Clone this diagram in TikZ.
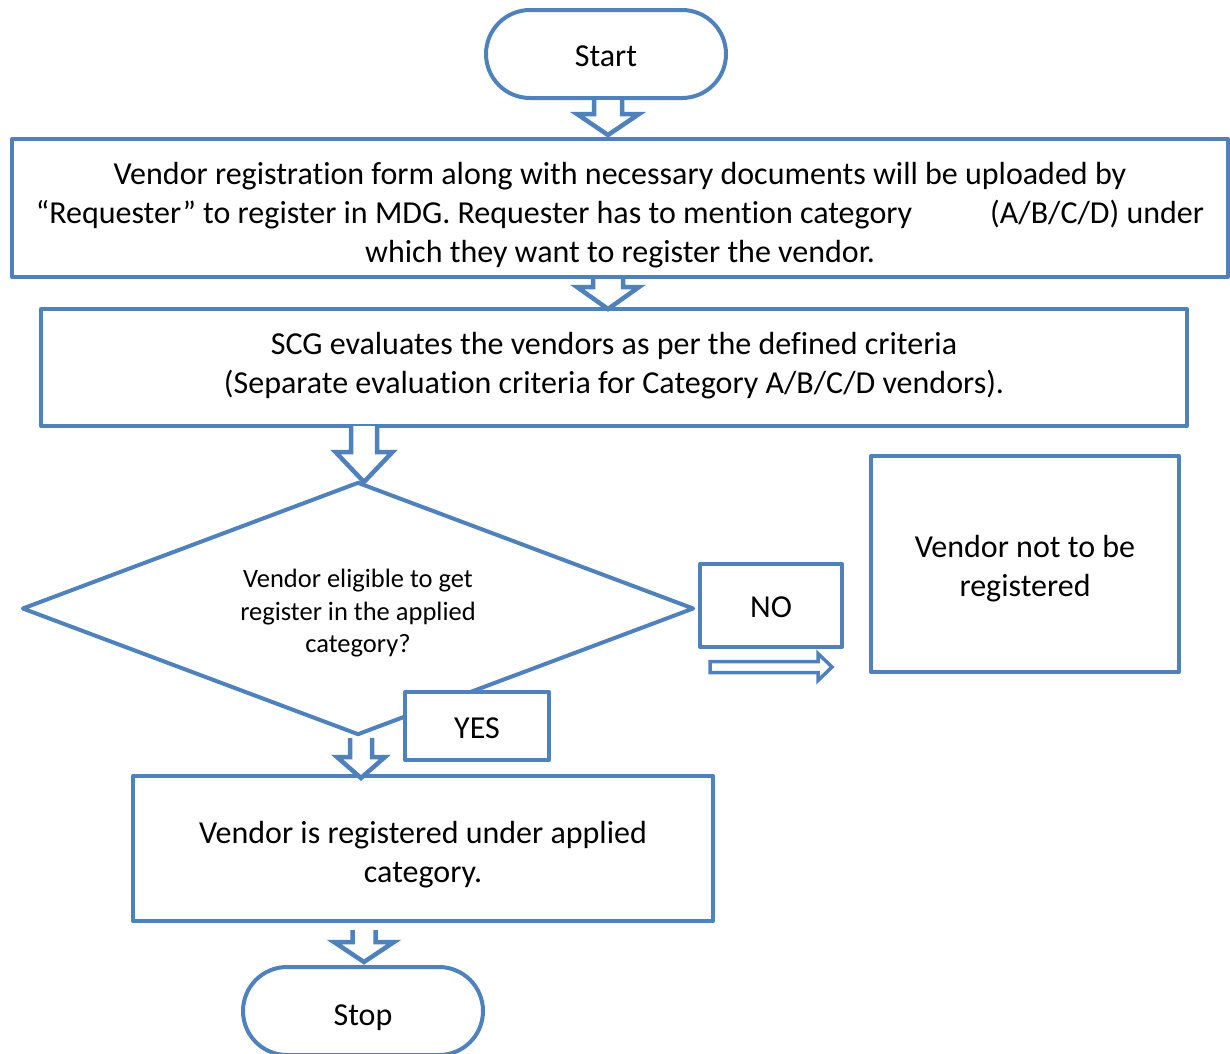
\documentclass[tikz,border=0pt]{standalone}
\usepackage{fontspec}
\setmainfont{Carlito}[Ligatures=NoCommon]
\usetikzlibrary{shapes.geometric}
\definecolor{bl}{HTML}{4F81BD}
\tikzset{
  x=1pt, y=-1pt,
  outl/.style={draw=bl, line width=4pt, line join=round},
  box/.style={outl, rectangle, fill=white, inner sep=0pt},
  term/.style={box, rounded corners=44pt, minimum width=240pt, minimum height=88pt},
  dia/.style={outl, diamond, fill=white, inner sep=0pt},
  txt/.style={align=center, text=black, inner sep=0pt, font=\fontsize{32}{39}\selectfont},
  dtxt/.style={txt, font=\fontsize{26.5}{32.5}\selectfont},
  arrowline/.style={draw=bl, line width=4.5pt, line join=miter, fill=white},
  pics/downarr/.style n args={4}{code={
    \path[arrowline] (-#1/2,0) -- (-#1/2,#4-#3) -- (-#2/2,#4-#3) -- (0,#4)
      -- (#2/2,#4-#3) -- (#1/2,#4-#3) -- (#1/2,0);
  }},
}
\begin{document}
\begin{tikzpicture}
\useasboundingbox (0,0) rectangle (1230,1053);

% shapes
\node[term] (start) at (606,54) {};
\node[box, minimum width=1216pt, minimum height=138pt] (reg) at (620,208) {};
\node[box, minimum width=1146pt, minimum height=117pt] (scg) at (614,367.5) {};
\node[dia, minimum width=672pt, minimum height=253pt, aspect=2.656] (elig) at (358,608.5) {};
\node[box, minimum width=142pt, minimum height=83pt] (no) at (771,605.5) {};
\node[box, minimum width=308pt, minimum height=216pt] (notreg) at (1025,564) {};
\node[box, minimum width=144pt, minimum height=68pt] (yes) at (477,726) {};
\node[box, minimum width=580pt, minimum height=145pt] (regd) at (423,848.5) {};
\node[term] (stop) at (363,1011) {};

% texts
\node[txt] (start-t) at ([yshift=-2pt]start.center) {Start};
\node[txt] (reg-t) at ([yshift=-7pt]reg.center)
  {Vendor registration form along with necessary documents will be uploaded by\\
   “Requester” to register in MDG. Requester has to mention category\hspace{78pt}(A/B/C/D) under\\
   which they want to register the vendor.};
\node[txt] (scg-t) at ([yshift=2pt]scg.center)
  {SCG evaluates the vendors as per the defined criteria\\
   (Separate evaluation criteria for Category A/B/C/D vendors).};
\node[dtxt] (elig-t) at ([yshift=-5pt]elig.center)
  {Vendor eligible to get\\register in the applied\\category?};
\node[txt] (no-t) at ([yshift=-2pt]no.center) {NO};
\node[txt] (notreg-t) at ([yshift=-5pt]notreg.center) {Vendor not to be\\registered};
\node[txt] (yes-t) at ([yshift=-2pt]yes.center) {YES};
\node[txt] (regd-t) at ([yshift=-6pt]regd.center)
  {Vendor is registered under applied\\category.};
\node[txt] (stop-t) at ([yshift=-7pt]stop.center) {Stop};

% block arrows
\coordinate (a1) at ([xshift=2pt]start.south);
\pic at (a1) {downarr={28}{62}{21}{35}};
\coordinate (a2) at ([xshift=-12pt]reg.south);
\pic at (a2) {downarr={30}{62}{22}{30}};
\coordinate (a3) at (364,426);
\pic at (a3) {downarr={26}{57}{30}{56}};
\coordinate (a4) at (361,738);
\pic at (a4) {downarr={22}{48}{21}{40}};
\coordinate (a5) at (364,930);
\pic at (a5) {downarr={23}{60}{20}{32}};

% right hollow arrow below NO
\coordinate (r0) at (710,667);
\path[arrowline, line width=3.5pt] (r0) ++(0,-5.5) -- ++(108,0) -- ++(0,-8) -- ++(14,13.5)
  -- ++(-14,13.5) -- ++(0,-8) -- ++(-108,0) -- cycle;
\end{tikzpicture}
\end{document}
